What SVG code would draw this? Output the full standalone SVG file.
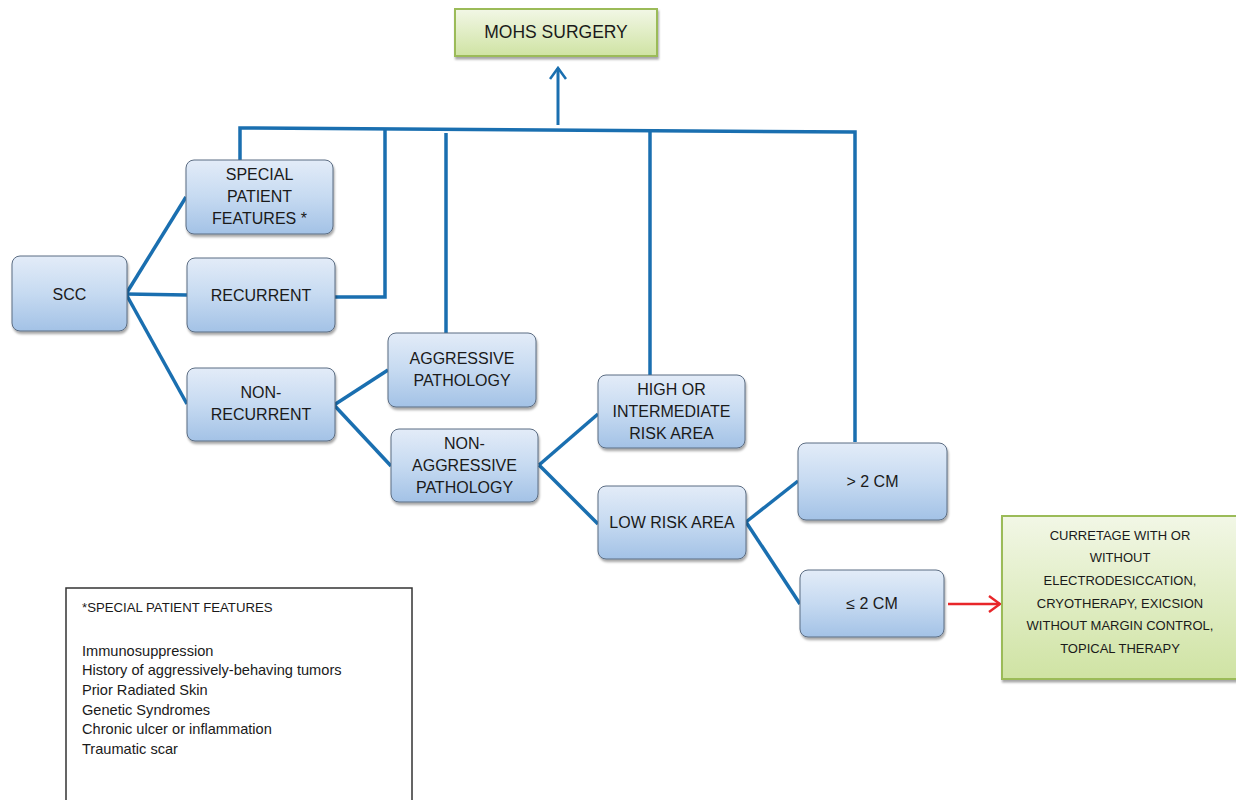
<svg xmlns="http://www.w3.org/2000/svg" width="1236" height="800" viewBox="0 0 1236 800">
<defs>
<linearGradient id="gb" x1="0" y1="0" x2="0" y2="1">
<stop offset="0" stop-color="#e3ecf8"/>
<stop offset="0.5" stop-color="#c6daf1"/>
<stop offset="1" stop-color="#a3c2e6"/>
</linearGradient>
<linearGradient id="gg" x1="0" y1="0" x2="0" y2="1">
<stop offset="0" stop-color="#f2f7e6"/>
<stop offset="1" stop-color="#cfe3a3"/>
</linearGradient>
<filter id="sh" x="-10%" y="-10%" width="125%" height="130%">
<feDropShadow dx="1" dy="2.5" stdDeviation="1.2" flood-color="#000" flood-opacity="0.35"/>
</filter>
<marker id="ab" viewBox="0 0 14 18" refX="12" refY="9" markerWidth="14" markerHeight="18" markerUnits="userSpaceOnUse" orient="auto">
<path d="M1,1 L12,9 L1,17" fill="none" stroke="#1a6fb0" stroke-width="2.6"/>
</marker>
<marker id="ar" viewBox="0 0 14 18" refX="12" refY="9" markerWidth="14" markerHeight="18" markerUnits="userSpaceOnUse" orient="auto">
<path d="M1,1 L12,9 L1,17" fill="none" stroke="#e8262a" stroke-width="2.4"/>
</marker>
</defs>
<style>
.b{fill:url(#gb);stroke:#5b6c82;stroke-width:1;filter:url(#sh)}
.g{fill:url(#gg);stroke:#9bbb59;stroke-width:2;filter:url(#sh)}
.t{font-family:"Liberation Sans",Arial,sans-serif;font-size:16px;fill:#1a1a1a;text-anchor:middle}
.c{fill:none;stroke:#1a6fb0;stroke-width:3.5;stroke-linejoin:miter}
.l{font-family:"Liberation Sans",Arial,sans-serif;font-size:14.6px;fill:#1a1a1a}
</style>
<rect width="1236" height="800" fill="#fff"/>
<g id="connectors">
<polyline class="c" points="240,160 240,128 855,132 855,442"/>
<polyline class="c" points="330,297 385,297 385,130"/>
<line class="c" x1="446" y1="133" x2="446" y2="333"/>
<line class="c" x1="650" y1="131" x2="650" y2="376"/>
<line x1="558" y1="125" x2="558" y2="68" stroke="#1a6fb0" stroke-width="3" marker-end="url(#ab)"/>
<line class="c" x1="126" y1="294" x2="186" y2="197"/>
<line class="c" x1="126" y1="294" x2="187" y2="295"/>
<line class="c" x1="126" y1="294" x2="187" y2="404"/>
<line class="c" x1="334" y1="405" x2="388" y2="370"/>
<line class="c" x1="334" y1="405" x2="391" y2="466"/>
<line class="c" x1="539" y1="465" x2="598" y2="414"/>
<line class="c" x1="539" y1="465" x2="598" y2="524"/>
<line class="c" x1="746" y1="522" x2="798" y2="481"/>
<line class="c" x1="746" y1="522" x2="800" y2="604"/>
<line x1="948" y1="604" x2="1000" y2="604" stroke="#e8262a" stroke-width="2.5" marker-end="url(#ar)"/>
</g>
<g id="mohs">
<rect class="g" x="455" y="9" width="202" height="47"/>
<text class="t" x="556" y="38" style="font-size:17.5px">MOHS SURGERY</text>
</g>
<g id="scc">
<rect class="b" x="12" y="256" width="115" height="75" rx="8"/>
<text class="t" x="69.500" y="300">SCC</text>
</g>
<g id="special">
<rect class="b" x="186" y="160" width="147" height="74" rx="8"/>
<text class="t" x="259.500" y="180">SPECIAL</text>
<text class="t" x="259.500" y="202">PATIENT</text>
<text class="t" x="259.500" y="224">FEATURES *</text>
</g>
<g id="recurrent">
<rect class="b" x="187" y="258" width="148" height="74" rx="8"/>
<text class="t" x="261" y="301">RECURRENT</text>
</g>
<g id="nonrecurrent">
<rect class="b" x="187" y="368" width="148" height="73" rx="8"/>
<text class="t" x="261" y="398">NON-</text>
<text class="t" x="261" y="420">RECURRENT</text>
</g>
<g id="aggressive">
<rect class="b" x="388" y="333" width="148" height="74" rx="8"/>
<text class="t" x="462" y="364">AGGRESSIVE</text>
<text class="t" x="462" y="386">PATHOLOGY</text>
</g>
<g id="nonaggressive">
<rect class="b" x="391" y="429" width="147" height="73" rx="8"/>
<text class="t" x="464.500" y="449">NON-</text>
<text class="t" x="464.500" y="471">AGGRESSIVE</text>
<text class="t" x="464.500" y="493">PATHOLOGY</text>
</g>
<g id="highrisk">
<rect class="b" x="598" y="375" width="147" height="73" rx="8"/>
<text class="t" x="671.500" y="395">HIGH OR</text>
<text class="t" x="671.500" y="417">INTERMEDIATE</text>
<text class="t" x="671.500" y="439">RISK AREA</text>
</g>
<g id="lowrisk">
<rect class="b" x="598" y="486" width="148" height="73" rx="8"/>
<text class="t" x="672" y="528">LOW RISK AREA</text>
</g>
<g id="gt2">
<rect class="b" x="798" y="443" width="149" height="77" rx="8"/>
<text class="t" x="872.500" y="487">&gt; 2 CM</text>
</g>
<g id="le2">
<rect class="b" x="800" y="570" width="144" height="67" rx="8"/>
<text class="t" x="872" y="609">≤ 2 CM</text>
</g>
<g id="curettage">
<rect class="g" x="1002" y="516" width="240" height="163"/>
<g class="t" style="font-size:13px">
<text x="1120" y="540">CURRETAGE WITH OR</text>
<text x="1120" y="562">WITHOUT</text>
<text x="1120" y="585">ELECTRODESICCATION,</text>
<text x="1120" y="608">CRYOTHERAPY, EXICSION</text>
<text x="1120" y="630">WITHOUT MARGIN CONTROL,</text>
<text x="1120" y="653">TOPICAL THERAPY</text>
</g>
</g>
<g id="legend">
<rect x="66" y="588" width="346" height="230" fill="#fff" stroke="#333" stroke-width="1.5"/>
<text class="l" x="82" y="612" style="font-size:13.2px">*SPECIAL PATIENT FEATURES</text>
<text class="l" x="82" y="656">Immunosuppression</text>
<text class="l" x="82" y="675">History of aggressively-behaving tumors</text>
<text class="l" x="82" y="695">Prior Radiated Skin</text>
<text class="l" x="82" y="715">Genetic Syndromes</text>
<text class="l" x="82" y="734">Chronic ulcer or inflammation</text>
<text class="l" x="82" y="754">Traumatic scar</text>
</g>
</svg>
